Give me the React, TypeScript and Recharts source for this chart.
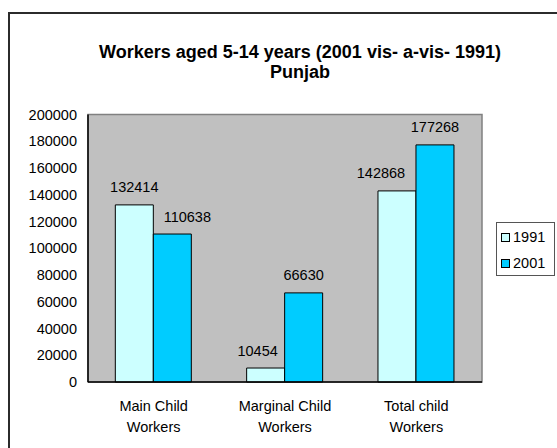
import { BarChart, Bar, XAxis, YAxis, Legend, LabelList, ReferenceArea } from 'recharts';

const categories = ['Main Child Workers', 'Marginal Child Workers', 'Total child Workers'];
const workers1991 = [132414, 10454, 142868];
const workers2001 = [110638, 66630, 177268];
const yTicks = [0, 20000, 40000, 60000, 80000, 100000, 120000, 140000, 160000, 180000, 200000];

const data = categories.map((name, i) => ({
  name,
  y1991: workers1991[i],
  y2001: workers2001[i],
}));

const FONT = '"Liberation Sans", Arial, Helvetica, sans-serif';
const TXT = 14.5;

// Excel nudged a few labels sideways to keep them apart
const nudge1991 = [0, -8, -16];
const nudge2001 = [15, 0, 0];

function makeLabel(values: number[], nudge: number[]) {
  return (props: any) => {
    const { x, y, width, value } = props;
    const i = values.indexOf(Number(value));
    return (
      <text
        x={Number(x) + Number(width) / 2 + (nudge[i] || 0)}
        y={Number(y) - 12.5}
        textAnchor="middle"
        fontSize={TXT}
        fontFamily={FONT}
        fill="#000"
      >
        {value}
      </text>
    );
  };
}

function CategoryTick({ x, y, payload }: any) {
  const text = String(payload.value);
  const cut = text.lastIndexOf(' ');
  const lines = [text.slice(0, cut), text.slice(cut + 1)];
  return (
    <text x={x} y={y} textAnchor="middle" fontSize={TXT} fontFamily={FONT} fill="#000">
      {lines.map((l, i) => (
        <tspan key={i} x={x} dy={i === 0 ? 28.5 : 21}>
          {l}
        </tspan>
      ))}
    </text>
  );
}

function LegendBox({ payload }: any) {
  return (
    <div
      style={{
        width: 59,
        height: 54,
        boxSizing: 'border-box',
        border: '1px solid #555',
        background: '#fff',
        fontFamily: FONT,
        fontSize: TXT,
        color: '#000',
        paddingTop: 1,
      }}
    >
      {(payload || []).map((p: any) => (
        <div key={p.value} style={{ height: 26, display: 'flex', alignItems: 'center', paddingLeft: 4 }}>
          <span
            style={{
              width: 9,
              height: 9,
              boxSizing: 'border-box',
              border: '1px solid #000',
              background: p.color,
              marginRight: 3,
              display: 'inline-block',
            }}
          />
          <span>{p.value}</span>
        </div>
      ))}
    </div>
  );
}

export default function App() {
  return (
    <div
      style={{
        position: 'fixed',
        left: 0,
        top: 0,
        width: 557,
        height: 448,
        overflow: 'hidden',
        background: '#fff',
      }}
    >
      <div
        style={{
          position: 'absolute',
          left: 8,
          top: 12,
          width: 600,
          height: 500,
          border: '2px solid #2b2b2b',
        }}
      />
      <div
        style={{
          position: 'absolute',
          left: 0,
          top: 42,
          width: 600,
          textAlign: 'center',
          fontFamily: FONT,
          fontWeight: 'bold',
          fontSize: 18,
          lineHeight: '20px',
          color: '#000',
        }}
      >
        <div>Workers aged 5-14 years (2001 vis- a-vis- 1991)</div>
        <div>Punjab</div>
      </div>
      <div style={{ position: 'absolute', left: 0, top: 0 }}>
        <BarChart
          width={557}
          height={448}
          data={data}
          margin={{ top: 114.5, right: 75, left: 0, bottom: 0 }}
          barCategoryGap="20.8%"
          barGap={0}
        >
          <ReferenceArea y1={0} y2={200000} fill="#C0C0C0" fillOpacity={1} stroke="#808080" strokeWidth={1.5} />
          <XAxis
            dataKey="name"
            height={66}
            axisLine={{ stroke: '#000', strokeWidth: 1.5 }}
            tickLine={false}
            tickSize={0}
            tickMargin={0}
            tick={<CategoryTick />}
            interval={0}
          />
          <YAxis
            width={88}
            domain={[0, 200000]}
            ticks={yTicks}
            interval={0}
            axisLine={{ stroke: '#000', strokeWidth: 1.5 }}
            tickLine={false}
            tickSize={0}
            tickMargin={11}
            tick={{ fill: '#000', fontSize: TXT, fontFamily: FONT }}
          />
          <Legend
            layout="vertical"
            align="center"
            verticalAlign="middle"
            content={<LegendBox />}
            wrapperStyle={{ left: 496, top: 222, width: 59, height: 54 }}
          />
          <Bar dataKey="y1991" name="1991" fill="#CCFFFF" stroke="#000" strokeWidth={1} isAnimationActive={false}>
            <LabelList dataKey="y1991" content={makeLabel(workers1991, nudge1991)} />
          </Bar>
          <Bar dataKey="y2001" name="2001" fill="#00CCFF" stroke="#000" strokeWidth={1} isAnimationActive={false}>
            <LabelList dataKey="y2001" content={makeLabel(workers2001, nudge2001)} />
          </Bar>
        </BarChart>
      </div>
    </div>
  );
}
